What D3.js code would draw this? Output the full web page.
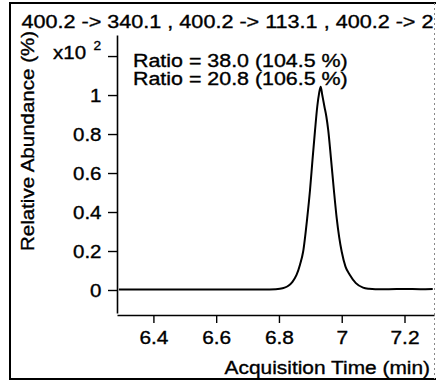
<!DOCTYPE html>
<html><head><meta charset="utf-8">
<script src="https://cdn.jsdelivr.net/npm/d3@7"></script>
<style>
body{margin:0;background:#fff}
text{font-family:"Liberation Sans",Arial,Helvetica,sans-serif;fill:#000;stroke:#000;stroke-width:0.35px}
</style></head>
<body><svg id="c" width="436" height="382"></svg>
<script>
// ---- data ----
const titleText = "400.2 -> 340.1 , 400.2 -> 113.1 , 400.2 -> 2";
const ratioLabels = ["Ratio = 38.0 (104.5 %)", "Ratio = 20.8 (106.5 %)"];
const xTicks = [6.4, 6.6, 6.8, 7, 7.2];
const yTicks = [0, 0.2, 0.4, 0.6, 0.8, 1];
const yMultiplierTick = 1.2;
const yMultiplierBase = "x10";
const yMultiplierExp = "2";
const xLabel = "Acquisition Time (min)";
const yLabel = "Relative Abundance (%)";
const xDomain = [6.284, 7.294];
const yDomain = [-0.118, 1.308];
const times = [6.29,6.35,6.40,6.45,6.50,6.55,6.60,6.65,6.70,6.75,6.79,6.803,6.818,6.830,6.843,6.856,6.867,6.877,6.890,6.899,6.907,6.915,6.922,6.928,6.933,6.938,6.945,6.951,6.957,6.966,6.975,6.984,6.992,7.000,7.012,7.026,7.045,7.068,7.087,7.107,7.15,7.20,7.25,7.29];
const abundance = [0.003,0.002,0.003,0.002,0.003,0.003,0.002,0.003,0.003,0.003,0.004,0.006,0.012,0.022,0.042,0.077,0.13,0.196,0.369,0.513,0.67,0.82,0.94,1.01,1.043,1.00,0.94,0.89,0.82,0.67,0.513,0.369,0.27,0.196,0.12,0.077,0.035,0.012,0.006,0.004,0.004,0.005,0.004,0.005];

// ---- layout ----
const svg = d3.select("#c");
const FS = 18, SX = 1.17;
const x = d3.scaleLinear().domain(xDomain).range([117, 434]);
const y = d3.scaleLinear().domain(yDomain).range([313, 35]);

function stext(str, tx, ty, opt = {}) {
  const t = svg.append("text")
    .attr("transform", `translate(${tx},${ty}) rotate(${opt.rot || 0}) scale(${opt.sx || SX},1)`)
    .attr("text-anchor", opt.anchor || "start")
    .attr("font-size", opt.size || FS)
    .text(str);
  return t;
}

// frame
const frame = svg.append("g").attr("stroke", "#000").attr("fill", "none");
frame.append("line").attr("x1", 9).attr("x2", 436).attr("y1", 3).attr("y2", 3).attr("stroke-width", 2);
frame.append("line").attr("x1", 10).attr("x2", 10).attr("y1", 2).attr("y2", 380).attr("stroke-width", 2);
frame.append("line").attr("x1", 9).attr("x2", 436).attr("y1", 379).attr("y2", 379).attr("stroke-width", 2);
frame.append("line").attr("x1", 434.5).attr("x2", 434.5).attr("y1", 3).attr("y2", 379)
  .attr("stroke", "#888").attr("stroke-width", 1).attr("stroke-dasharray", "2,3");

// title
stext(titleText, 21.5, 28, {sx: 1.2});

// ratio labels
ratioLabels.forEach((r, i) => stext(r, 133, 67 + i * 17.5, {sx: 1.19}));

// y axis
const yAxis = d3.axisLeft(y)
  .tickValues([...yTicks, yMultiplierTick])
  .tickSize(9).tickSizeOuter(0)
  .tickFormat(d => d === yMultiplierTick ? "" : d3.format("~g")(d));
const gy = svg.append("g").attr("transform", "translate(117,0)").call(yAxis);
gy.select(".domain").attr("stroke-width", 1.6);
gy.selectAll(".tick line").attr("stroke-width", 1.4);
gy.selectAll(".tick text")
  .attr("x", null).attr("dy", null)
  .attr("font-size", FS)
  .attr("font-family", null)
  .attr("transform", "translate(-15.5,6.3) scale(1.14,1)");
// multiplier label
stext(yMultiplierBase, 53, 58.5, {sx: 1.14});
stext(yMultiplierExp, 93.5, 50, {size: 12, sx: 1.14});

// x axis
const xAxis = d3.axisBottom(x).tickValues(xTicks).tickSize(8).tickSizeOuter(0)
  .tickFormat(d3.format("~g"));
const gx = svg.append("g").attr("transform", "translate(0,315)").call(xAxis);
gx.select(".domain").attr("stroke-width", 1.6);
gx.selectAll(".tick line").attr("stroke-width", 1.4);
gx.selectAll(".tick text")
  .attr("y", null).attr("dy", null)
  .attr("font-size", FS)
  .attr("font-family", null)
  .attr("transform", "translate(0,29) scale(1.16,1)");

// axis titles
stext(xLabel, 430, 374, {anchor: "end", size: 18.5, sx: 1.13});
stext(yLabel, 33.5, 141, {anchor: "middle", rot: -90, sx: 1.14});

// trace
const line = d3.line().x((d, i) => x(times[i])).y(d => y(d)).curve(d3.curveMonotoneX);
svg.append("path").datum(abundance)
  .attr("d", line)
  .attr("fill", "none").attr("stroke", "#000").attr("stroke-width", 2)
  .attr("stroke-linejoin", "round");
</script>
</body></html>
